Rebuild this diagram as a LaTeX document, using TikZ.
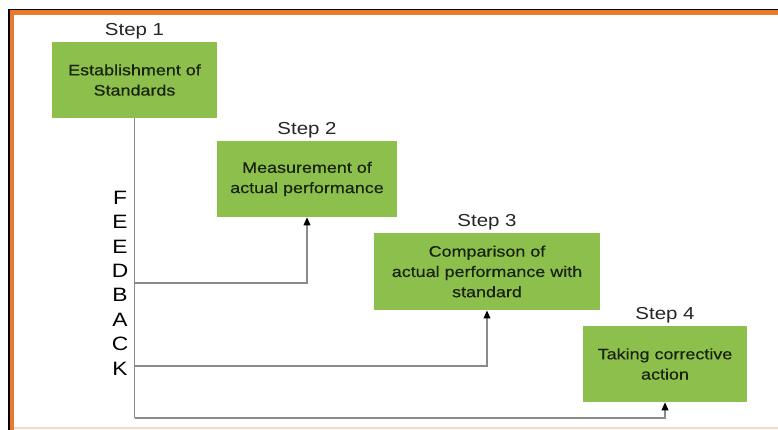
\documentclass[tikz,border=0pt]{standalone}
\usepackage{fontspec}
\setmainfont{Liberation Sans}
\newfontfamily\widefont[FakeStretch=1.18]{Liberation Sans}
\newfontfamily\boxfont[FakeStretch=1.18, FakeBold=0.4]{Liberation Sans}
\usepackage{xcolor}
\usepackage{tikz}
\usetikzlibrary{arrows.meta, positioning, calc}
\definecolor{stepgreen}{HTML}{8CBF4B}
\definecolor{steptext}{HTML}{18220F}
\definecolor{feedgray}{HTML}{8A8A8A}
\definecolor{frameorange}{HTML}{E8792E}

\begin{document}
\begin{tikzpicture}[
    x=0.75pt, y=-0.75pt,
    node distance=1pt,
    box/.style={
        rectangle,
        fill=stepgreen,
        minimum height=57pt,
        text centered,
        align=center,
        text=steptext,
        font=\boxfont\fontsize{11.4}{15.2}\selectfont
    },
    steplabel/.style={
        inner sep=1pt,
        text=black!85,
        font=\widefont\fontsize{13}{14}\selectfont
    },
    feed/.style={
        line width=1.1pt,
        draw=feedgray
    },
    feedarrow/.style={
        feed,
        -{Triangle[length=6pt,width=5pt,color=black]}
    }
]

% page and frame
\useasboundingbox (0,0) rectangle (778,429);
\fill[white] (0,0) rectangle (778,429);
\fill[frameorange!30] (10,427) rectangle (778,429);
\draw[frameorange, line width=3.5pt] (12,440) -- (12,12.5) -- (790,12.5);
\draw[black, line width=1pt] (9,440) -- (9,9.5) -- (790,9.5);

% steps
\node[box, minimum width=123.75pt] (box1) at (134.5,80) {Establishment of\\Standards};
\node[box, minimum width=135pt] (box2) at (307,179) {Measurement of\\actual performance};
\node[box, minimum width=169.5pt, minimum height=58pt] (box3) at (487,271.5) {Comparison of\\actual performance with\\standard};
\node[box, minimum width=123pt] (box4) at (665,364) {Taking corrective\\action};

\node[steplabel, above=of box1] (lbl1) {Step 1};
\node[steplabel, above=of box2] (lbl2) {Step 2};
\node[steplabel, above=of box3] (lbl3) {Step 3};
\node[steplabel, above=of box4] (lbl4) {Step 4};

% feedback
\node[align=center, font=\widefont\fontsize{14.5}{18.3}\selectfont] (feedback) at (120,283) {F\\E\\E\\D\\B\\A\\C\\K};

\coordinate (k2) at (box1.south |- 0,283);
\coordinate (k3) at (box1.south |- 0,366);
\coordinate (k4) at (box1.south |- 0,418);

\draw[feed] (box1.south) -- (k4);
\draw[feedarrow] (k2) -| (box2.south);
\draw[feedarrow] (k3) -| (box3.south);
\draw[feedarrow] (k4) -| (box4.south);

\end{tikzpicture}
\end{document}
